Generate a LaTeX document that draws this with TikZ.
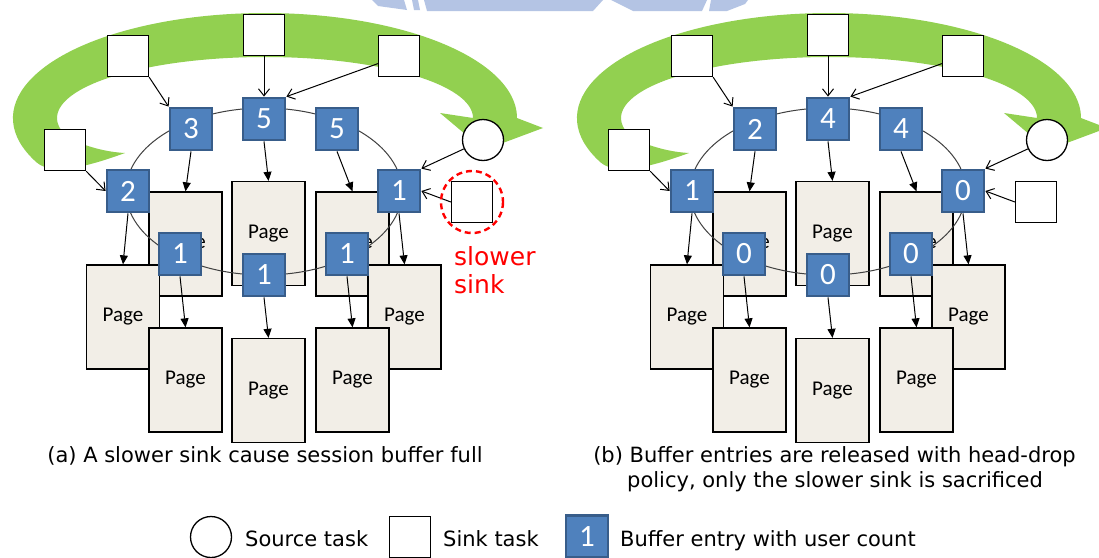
\documentclass[tikz,border=0pt]{standalone}
\usepackage{fontspec}
\setmainfont{DejaVu Sans}
\newfontfamily\calibrifont{Carlito}
\usetikzlibrary{arrows.meta}

\definecolor{entryblue}{HTML}{4F81BD}
\definecolor{entryedge}{HTML}{385D8A}
\definecolor{pagefill}{HTML}{F2EEE7}
\definecolor{swoosh}{HTML}{92D050}
\definecolor{ringgray}{HTML}{404040}
\definecolor{crest}{HTML}{B4C4E4}

\tikzset{
  sinkbox/.style={rectangle, draw=black, fill=white, line width=1.3pt, minimum size=41pt, inner sep=0pt},
  srcnode/.style={circle, draw=black, fill=white, line width=1.3pt, minimum size=41pt, inner sep=0pt},
  entry/.style={rectangle, fill=entryblue, draw=entryedge, line width=2.8pt, minimum size=42pt, inner sep=0pt,
    text=white, font=\calibrifont\fontsize{31}{31}\selectfont},
  pagebox/.style={rectangle, draw=black, fill=pagefill, line width=1.3pt, minimum width=73pt, minimum height=104pt,
    inner sep=0pt, font=\calibrifont\fontsize{21}{21}\selectfont},
  sinkarrow/.style={-{Straight Barb[length=7pt,width=11pt]}, line width=1pt},
  pagearrow/.style={-{Triangle[length=9pt,width=8pt]}, line width=1pt},
  ringline/.style={draw=ringgray, line width=1pt},
  label/.style={font=\fontsize{21}{25}\selectfont, inner sep=0pt},
}

% One session buffer: circular arrow, pages, ring of entries, sinks and source.
% #1 name prefix, #2..#9 user counts of the eight entries
\newcommand\bufferpanel[9]{%
  % circular green arrow
  \fill[swoosh] (36.6,162.4)
    arc[start angle=155, end angle=360, x radius=252, y radius=105]
    -- (543,128) -- (484,150) -- (440,113) -- (473,118)
    arc[start angle=360, end angle=160, x radius=208, y radius=61]
    .. controls (88,147) and (106,152) .. (125,153)
    .. controls (100,162) and (54,178) .. (36.6,162.4) -- cycle;
  % pages
  \node[pagebox] (#1p1) at (185.5,244) {Page};
  \node[pagebox] (#1p2) at (268.5,233.5) {Page};
  \node[pagebox] (#1p3) at (352.5,244) {Page};
  \node[pagebox] (#1p4) at (123,317) {Page};
  \node[pagebox] (#1p5) at (404.5,317) {Page};
  \node[pagebox] (#1p6) at (185.5,380) {Page};
  \node[pagebox] (#1p7) at (268.5,390.5) {Page};
  \node[pagebox] (#1p8) at (352.5,380) {Page};
  % ring of the buffer
  \draw[ringline] (264,191.5) ellipse [x radius=138, y radius=83.5];
  % buffer entries
  \node[entry] (#1e1) at (191,129) {#2};
  \node[entry] (#1e2) at (264,119) {#3};
  \node[entry] (#1e3) at (337,129) {#4};
  \node[entry] (#1e4) at (128,191) {#5};
  \node[entry] (#1e5) at (399,191) {#6};
  \node[entry] (#1e6) at (180,254) {#7};
  \node[entry] (#1e7) at (264,275) {#8};
  \node[entry] (#1e8) at (347,254) {#9};
  % sinks and source
  \node[sinkbox] (#1sA) at (128,56) {};
  \node[sinkbox] (#1sB) at (264,35) {};
  \node[sinkbox] (#1sC) at (399,56) {};
  \node[sinkbox] (#1sD) at (65,150) {};
  \node[sinkbox] (#1sE) at (472,202) {};
  \node[srcnode] (#1src) at (483,140) {};
  % readers and writer
  \draw[sinkarrow] (#1sA.south east) -- (#1e1.north west);
  \draw[sinkarrow] (#1sB.south) -- (#1e2.north);
  \draw[sinkarrow] (#1sC) -- (#1e2.north east);
  \draw[sinkarrow] (#1sD.south east) -- (#1e4.west);
  \draw[sinkarrow] (#1src) -- (#1e5.north east);
  \draw[sinkarrow] (#1sE.west) -- (#1e5.east);
  % entries point to their pages
  \draw[pagearrow] (#1e1.south) -- (#1p1.north);
  \draw[pagearrow] (#1e2.south) -- (#1p2.north);
  \draw[pagearrow] (#1e3.south) -- (#1p3.north);
  \draw[pagearrow] (#1e4.south) -- (#1p4.north);
  \draw[pagearrow] (#1e5.south) -- (#1p5.north);
  \draw[pagearrow] (#1e6.south) -- (#1p6.north);
  \draw[pagearrow] (#1e7.south) -- (#1p7.north);
  \draw[pagearrow] (#1e8.south) -- (#1p8.north);
}

\begin{document}
\begin{tikzpicture}[x=1pt,y=-1pt]
\useasboundingbox (0,0) rectangle (1099,557);
\clip (0,0) rectangle (1099,557);
\fill[white] (0,0) rectangle (1099,557);

% crest along the top edge
\fill[crest] (372,0) -- (404,0) -- (407,10) -- (378,6) -- cycle;
\fill[crest] (412,0) -- (418,0) -- (420,10) -- (414,10) -- cycle;
\fill[crest] (424,0) -- (603,0) -- (593,11) -- (427,11) -- cycle;
\fill[crest] (611,0) -- (707,0) -- (702,11) -- (633,11) -- cycle;
\fill[crest] (711,0) -- (748,0) -- (745,4) -- (727,11) -- (709,11) -- cycle;

\begin{scope}
  \bufferpanel{L}{3}{5}{5}{2}{1}{1}{1}{1}
\end{scope}
\begin{scope}[shift={(564,0)}]
  \bufferpanel{R}{2}{4}{4}{1}{0}{0}{0}{0}
\end{scope}

% the slower sink
\draw[red, line width=2.4pt, dash pattern=on 6pt off 4pt] (LsE) circle [radius=31];
\node[anchor=base west, inner sep=0pt, text=red, font=\fontsize{25}{28}\selectfont] (slow1) at (454,265) {slower};
\node[anchor=base west, inner sep=0pt, text=red, font=\fontsize{25}{28}\selectfont] (slow2) at (454,293) {sink};

% captions
\node[label, anchor=base] (capa) at (265,462) {(a) A slower sink cause session buffer full};
\node[label, anchor=base] (capb1) at (834.5,462) {(b) Buffer entries are released with head-drop};
\node[label, anchor=base] (capb2) at (835,487) {policy, only the slower sink is sacrificed};

% legend
\node[srcnode] (lgsrc) at (211,537) {};
\node[label, anchor=base west] (lgsrct) at (245,546) {Source task};
\node[sinkbox] (lgsink) at (410,537) {};
\node[label, anchor=base west] (lgsinkt) at (443,546) {Sink task};
\node[entry] (lgentry) at (587,536.5) {1};
\node[label, anchor=base west] (lgentryt) at (620,546) {Buffer entry with user count};
\end{tikzpicture}
\end{document}
